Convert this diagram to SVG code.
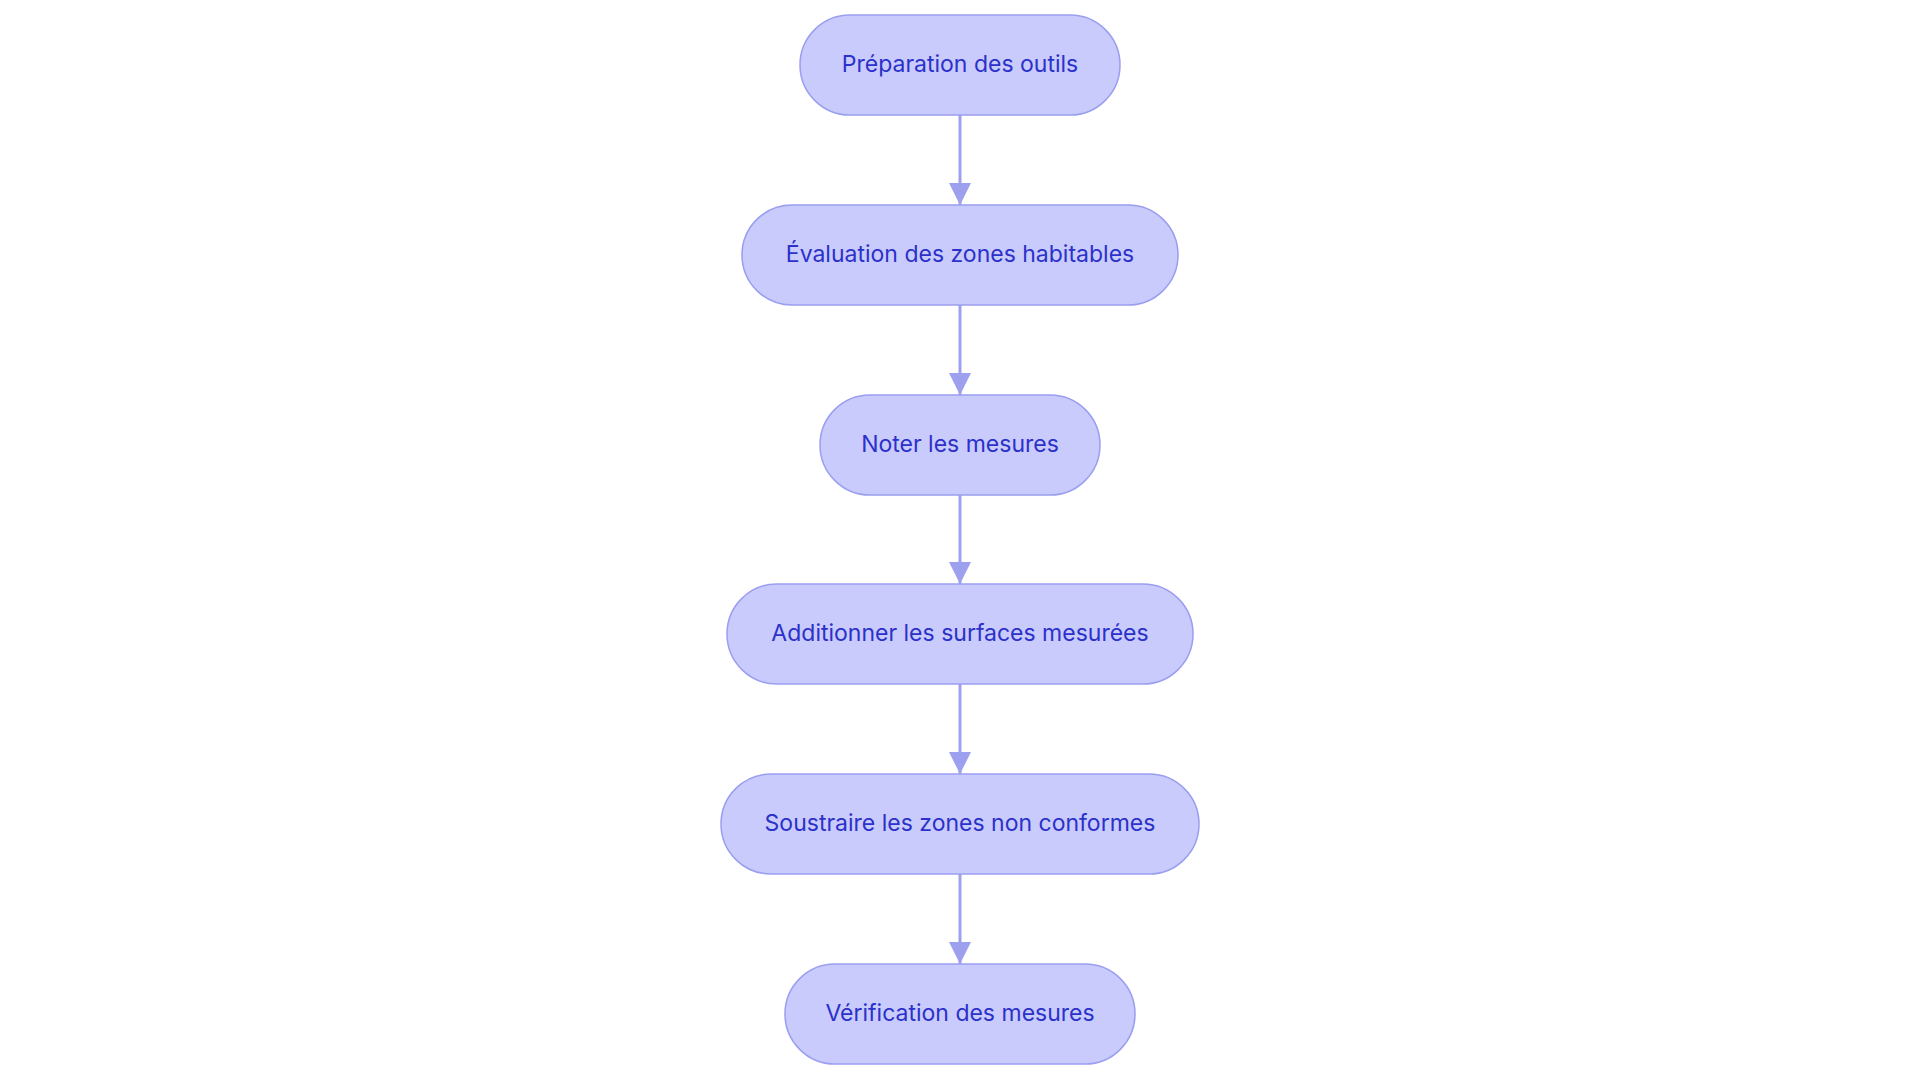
<svg xmlns="http://www.w3.org/2000/svg" width="1920" height="1083" viewBox="0 0 1920 1083">
<style>
.n rect{fill:#c9cbfd;stroke:#9a9ef0;stroke-width:1.5}
.n text{font-family:Inter,"Noto Sans",sans-serif;font-size:23px;fill:#2b31c9;text-anchor:middle;dominant-baseline:central}
.c line{stroke:#9da0ef;stroke-width:3;marker-end:url(#b)}
</style>
<defs><marker id="b" viewBox="0 0 10 10" refX="10" refY="5" markerWidth="22" markerHeight="22" markerUnits="userSpaceOnUse" orient="auto"><path d="M0,0L10,5L0,10z" fill="#9da0ef"/></marker></defs>
<rect width="1920" height="1083" fill="#fff"/>
<g class="c">
<line x1="960" y1="115" x2="960" y2="205"/>
<line x1="960" y1="305" x2="960" y2="395"/>
<line x1="960" y1="495" x2="960" y2="584"/>
<line x1="960" y1="684" x2="960" y2="774"/>
<line x1="960" y1="874" x2="960" y2="964"/>
</g>
<g id="n1" class="n"><rect x="800" y="15" width="320" height="100" rx="50"/><text x="960" y="64">Préparation des outils</text></g>
<g id="n2" class="n"><rect x="742" y="205" width="436" height="100" rx="50"/><text x="960" y="254">Évaluation des zones habitables</text></g>
<g id="n3" class="n"><rect x="820" y="395" width="280" height="100" rx="50"/><text x="960" y="444">Noter les mesures</text></g>
<g id="n4" class="n"><rect x="727" y="584" width="466" height="100" rx="50"/><text x="960" y="633">Additionner les surfaces mesurées</text></g>
<g id="n5" class="n"><rect x="721" y="774" width="478" height="100" rx="50"/><text x="960" y="823">Soustraire les zones non conformes</text></g>
<g id="n6" class="n"><rect x="785" y="964" width="350" height="100" rx="50"/><text x="960" y="1013">Vérification des mesures</text></g>
</svg>
